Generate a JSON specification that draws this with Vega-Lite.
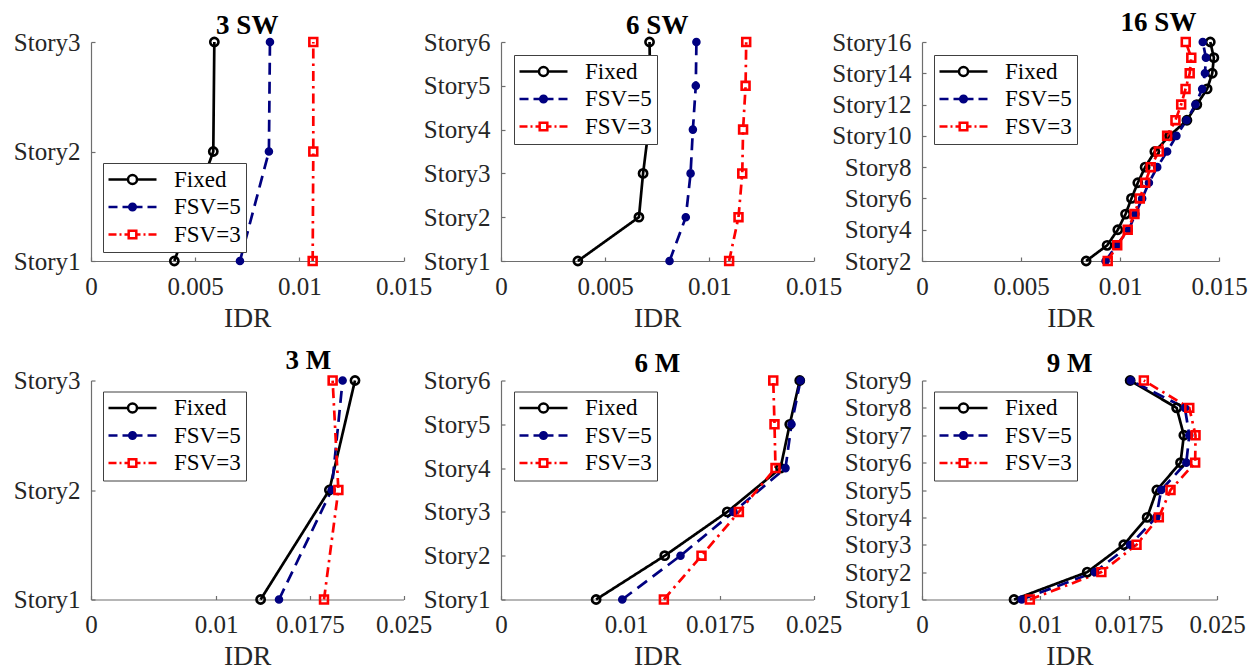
{
  "$schema": "https://vega.github.io/schema/vega-lite/v6.json",
  "background": "white",
  "padding": {"left": 13, "top": 8, "right": 6, "bottom": 0},
  "datasets": {
    "idr": [
      {"p": "3 SW", "s": "Fixed", "n": 1, "v": 0.0040},
      {"p": "3 SW", "s": "Fixed", "n": 2, "v": 0.00587},
      {"p": "3 SW", "s": "Fixed", "n": 3, "v": 0.00592},
      {"p": "3 SW", "s": "FSV=5", "n": 1, "v": 0.00715},
      {"p": "3 SW", "s": "FSV=5", "n": 2, "v": 0.00854},
      {"p": "3 SW", "s": "FSV=5", "n": 3, "v": 0.00859},
      {"p": "3 SW", "s": "FSV=3", "n": 1, "v": 0.01064},
      {"p": "3 SW", "s": "FSV=3", "n": 2, "v": 0.01067},
      {"p": "3 SW", "s": "FSV=3", "n": 3, "v": 0.01067},

      {"p": "6 SW", "s": "Fixed", "n": 1, "v": 0.00369},
      {"p": "6 SW", "s": "Fixed", "n": 2, "v": 0.00662},
      {"p": "6 SW", "s": "Fixed", "n": 3, "v": 0.00682},
      {"p": "6 SW", "s": "Fixed", "n": 4, "v": 0.00708},
      {"p": "6 SW", "s": "Fixed", "n": 5, "v": 0.00716},
      {"p": "6 SW", "s": "Fixed", "n": 6, "v": 0.00713},
      {"p": "6 SW", "s": "FSV=5", "n": 1, "v": 0.00809},
      {"p": "6 SW", "s": "FSV=5", "n": 2, "v": 0.00887},
      {"p": "6 SW", "s": "FSV=5", "n": 3, "v": 0.0091},
      {"p": "6 SW", "s": "FSV=5", "n": 4, "v": 0.00921},
      {"p": "6 SW", "s": "FSV=5", "n": 5, "v": 0.00935},
      {"p": "6 SW", "s": "FSV=5", "n": 6, "v": 0.00938},
      {"p": "6 SW", "s": "FSV=3", "n": 1, "v": 0.01095},
      {"p": "6 SW", "s": "FSV=3", "n": 2, "v": 0.0114},
      {"p": "6 SW", "s": "FSV=3", "n": 3, "v": 0.01158},
      {"p": "6 SW", "s": "FSV=3", "n": 4, "v": 0.01162},
      {"p": "6 SW", "s": "FSV=3", "n": 5, "v": 0.01174},
      {"p": "6 SW", "s": "FSV=3", "n": 6, "v": 0.01177},

      {"p": "16 SW", "s": "Fixed", "n": 2, "v": 0.00829},
      {"p": "16 SW", "s": "Fixed", "n": 3, "v": 0.00935},
      {"p": "16 SW", "s": "Fixed", "n": 4, "v": 0.00989},
      {"p": "16 SW", "s": "Fixed", "n": 5, "v": 0.01028},
      {"p": "16 SW", "s": "Fixed", "n": 6, "v": 0.01058},
      {"p": "16 SW", "s": "Fixed", "n": 7, "v": 0.0109},
      {"p": "16 SW", "s": "Fixed", "n": 8, "v": 0.01127},
      {"p": "16 SW", "s": "Fixed", "n": 9, "v": 0.01176},
      {"p": "16 SW", "s": "Fixed", "n": 10, "v": 0.0125},
      {"p": "16 SW", "s": "Fixed", "n": 11, "v": 0.01338},
      {"p": "16 SW", "s": "Fixed", "n": 12, "v": 0.01388},
      {"p": "16 SW", "s": "Fixed", "n": 13, "v": 0.0144},
      {"p": "16 SW", "s": "Fixed", "n": 14, "v": 0.01466},
      {"p": "16 SW", "s": "Fixed", "n": 15, "v": 0.01474},
      {"p": "16 SW", "s": "Fixed", "n": 16, "v": 0.01456},
      {"p": "16 SW", "s": "FSV=5", "n": 2, "v": 0.00927},
      {"p": "16 SW", "s": "FSV=5", "n": 3, "v": 0.00982},
      {"p": "16 SW", "s": "FSV=5", "n": 4, "v": 0.01044},
      {"p": "16 SW", "s": "FSV=5", "n": 5, "v": 0.01078},
      {"p": "16 SW", "s": "FSV=5", "n": 6, "v": 0.01112},
      {"p": "16 SW", "s": "FSV=5", "n": 7, "v": 0.01146},
      {"p": "16 SW", "s": "FSV=5", "n": 8, "v": 0.01188},
      {"p": "16 SW", "s": "FSV=5", "n": 9, "v": 0.01238},
      {"p": "16 SW", "s": "FSV=5", "n": 10, "v": 0.01285},
      {"p": "16 SW", "s": "FSV=5", "n": 11, "v": 0.01336},
      {"p": "16 SW", "s": "FSV=5", "n": 12, "v": 0.01381},
      {"p": "16 SW", "s": "FSV=5", "n": 13, "v": 0.01415},
      {"p": "16 SW", "s": "FSV=5", "n": 14, "v": 0.01429},
      {"p": "16 SW", "s": "FSV=5", "n": 15, "v": 0.01434},
      {"p": "16 SW", "s": "FSV=5", "n": 16, "v": 0.01418},
      {"p": "16 SW", "s": "FSV=3", "n": 2, "v": 0.00938},
      {"p": "16 SW", "s": "FSV=3", "n": 3, "v": 0.00986},
      {"p": "16 SW", "s": "FSV=3", "n": 4, "v": 0.01039},
      {"p": "16 SW", "s": "FSV=3", "n": 5, "v": 0.01073},
      {"p": "16 SW", "s": "FSV=3", "n": 6, "v": 0.011},
      {"p": "16 SW", "s": "FSV=3", "n": 7, "v": 0.01127},
      {"p": "16 SW", "s": "FSV=3", "n": 8, "v": 0.01155},
      {"p": "16 SW", "s": "FSV=3", "n": 9, "v": 0.01196},
      {"p": "16 SW", "s": "FSV=3", "n": 10, "v": 0.01238},
      {"p": "16 SW", "s": "FSV=3", "n": 11, "v": 0.0128},
      {"p": "16 SW", "s": "FSV=3", "n": 12, "v": 0.01309},
      {"p": "16 SW", "s": "FSV=3", "n": 13, "v": 0.01331},
      {"p": "16 SW", "s": "FSV=3", "n": 14, "v": 0.01352},
      {"p": "16 SW", "s": "FSV=3", "n": 15, "v": 0.0136},
      {"p": "16 SW", "s": "FSV=3", "n": 16, "v": 0.01332},

      {"p": "3 M", "s": "Fixed", "n": 1, "v": 0.01357},
      {"p": "3 M", "s": "Fixed", "n": 2, "v": 0.01907},
      {"p": "3 M", "s": "Fixed", "n": 3, "v": 0.02112},
      {"p": "3 M", "s": "FSV=5", "n": 1, "v": 0.01504},
      {"p": "3 M", "s": "FSV=5", "n": 2, "v": 0.01925},
      {"p": "3 M", "s": "FSV=5", "n": 3, "v": 0.02013},
      {"p": "3 M", "s": "FSV=3", "n": 1, "v": 0.01864},
      {"p": "3 M", "s": "FSV=3", "n": 2, "v": 0.01979},
      {"p": "3 M", "s": "FSV=3", "n": 3, "v": 0.01933},

      {"p": "6 M", "s": "Fixed", "n": 1, "v": 0.00761},
      {"p": "6 M", "s": "Fixed", "n": 2, "v": 0.0131},
      {"p": "6 M", "s": "Fixed", "n": 3, "v": 0.0181},
      {"p": "6 M", "s": "Fixed", "n": 4, "v": 0.02236},
      {"p": "6 M", "s": "Fixed", "n": 5, "v": 0.0231},
      {"p": "6 M", "s": "Fixed", "n": 6, "v": 0.0239},
      {"p": "6 M", "s": "FSV=5", "n": 1, "v": 0.0097},
      {"p": "6 M", "s": "FSV=5", "n": 2, "v": 0.01436},
      {"p": "6 M", "s": "FSV=5", "n": 3, "v": 0.0186},
      {"p": "6 M", "s": "FSV=5", "n": 4, "v": 0.02276},
      {"p": "6 M", "s": "FSV=5", "n": 5, "v": 0.02324},
      {"p": "6 M", "s": "FSV=5", "n": 6, "v": 0.02396},
      {"p": "6 M", "s": "FSV=3", "n": 1, "v": 0.01303},
      {"p": "6 M", "s": "FSV=3", "n": 2, "v": 0.01604},
      {"p": "6 M", "s": "FSV=3", "n": 3, "v": 0.01903},
      {"p": "6 M", "s": "FSV=3", "n": 4, "v": 0.02196},
      {"p": "6 M", "s": "FSV=3", "n": 5, "v": 0.02188},
      {"p": "6 M", "s": "FSV=3", "n": 6, "v": 0.02178},

      {"p": "9 M", "s": "Fixed", "n": 1, "v": 0.0078},
      {"p": "9 M", "s": "Fixed", "n": 2, "v": 0.014},
      {"p": "9 M", "s": "Fixed", "n": 3, "v": 0.0171},
      {"p": "9 M", "s": "Fixed", "n": 4, "v": 0.01908},
      {"p": "9 M", "s": "Fixed", "n": 5, "v": 0.0199},
      {"p": "9 M", "s": "Fixed", "n": 6, "v": 0.02191},
      {"p": "9 M", "s": "Fixed", "n": 7, "v": 0.02219},
      {"p": "9 M", "s": "Fixed", "n": 8, "v": 0.02158},
      {"p": "9 M", "s": "Fixed", "n": 9, "v": 0.01764},
      {"p": "9 M", "s": "FSV=5", "n": 1, "v": 0.00845},
      {"p": "9 M", "s": "FSV=5", "n": 2, "v": 0.01465},
      {"p": "9 M", "s": "FSV=5", "n": 3, "v": 0.01765},
      {"p": "9 M", "s": "FSV=5", "n": 4, "v": 0.01985},
      {"p": "9 M", "s": "FSV=5", "n": 5, "v": 0.02027},
      {"p": "9 M", "s": "FSV=5", "n": 6, "v": 0.0224},
      {"p": "9 M", "s": "FSV=5", "n": 7, "v": 0.02265},
      {"p": "9 M", "s": "FSV=5", "n": 8, "v": 0.02228},
      {"p": "9 M", "s": "FSV=5", "n": 9, "v": 0.0177},
      {"p": "9 M", "s": "FSV=3", "n": 1, "v": 0.00914},
      {"p": "9 M", "s": "FSV=3", "n": 2, "v": 0.0152},
      {"p": "9 M", "s": "FSV=3", "n": 3, "v": 0.01818},
      {"p": "9 M", "s": "FSV=3", "n": 4, "v": 0.02007},
      {"p": "9 M", "s": "FSV=3", "n": 5, "v": 0.02106},
      {"p": "9 M", "s": "FSV=3", "n": 6, "v": 0.02315},
      {"p": "9 M", "s": "FSV=3", "n": 7, "v": 0.02318},
      {"p": "9 M", "s": "FSV=3", "n": 8, "v": 0.02265},
      {"p": "9 M", "s": "FSV=3", "n": 9, "v": 0.0188}
    ]
  },
  "columns": 3,
  "bounds": "flush",
  "align": "each",
  "spacing": {"row": 119.5, "column": 97},
  "resolve": {
    "scale": {"color": "independent", "shape": "independent"},
    "legend": {"color": "independent", "shape": "independent"}
  },
  "concat": [
    {
      "data": {"name": "idr"},
      "transform": [{"filter": "datum.p === '3 SW'"}],
      "width": 312.5, "height": 219,
      "title": {"text": "3 SW", "font": "Liberation Serif", "fontSize": 27, "fontWeight": "bold", "color": "#000000", "frame": "group", "anchor": "middle", "offset": -30.5, "baseline": "alphabetic"},
      "encoding": {
        "x": {"field": "v", "type": "quantitative", "scale": {"domain": [0, 0.015], "nice": false, "zero": false},
              "axis": {"values": [0, 0.005, 0.01, 0.015], "labelExpr": "'' + datum.value", "title": "IDR",
                       "labelFont": "Liberation Serif", "labelFontSize": 25, "labelColor": "#262626", "labelPadding": 17, "labelFlush": false, "labelOverlap": false,
                       "titleFont": "Liberation Serif", "titleFontSize": 27.5, "titleFontWeight": "normal", "titleColor": "#262626", "titlePadding": 5,
                       "grid": false, "tickSize": -4, "tickColor": "#6e6e6e", "tickWidth": 1.2, "domainColor": "#6e6e6e", "domainWidth": 1.2}},
        "y": {"field": "n", "type": "quantitative", "scale": {"domain": [1, 3], "nice": false, "zero": false},
              "axis": {"values": [1, 2, 3], "labelExpr": "'Story' + datum.value", "title": null,
                       "labelFont": "Liberation Serif", "labelFontSize": 25, "labelColor": "#262626", "labelPadding": 15, "labelFlush": false, "labelOverlap": false,
                       "grid": false, "tickSize": -4, "tickColor": "#6e6e6e", "tickWidth": 1.2, "domainColor": "#6e6e6e", "domainWidth": 1.2}}
      },
      "layer": [
        {"mark": {"type": "line", "strokeWidth": 2.7, "strokeCap": "butt"},
         "encoding": {"detail": {"field": "s"}, "order": {"field": "n", "type": "quantitative"},
           "color": {"condition": [{"test": "datum.s === 'FSV=5'", "value": "#000080"}, {"test": "datum.s === 'FSV=3'", "value": "#ff0000"}], "value": "#000000"},
           "strokeDash": {"condition": [{"test": "datum.s === 'FSV=5'", "value": [12, 7]}, {"test": "datum.s === 'FSV=3'", "value": [10, 5, 2.5, 5]}], "value": [1, 0]}}},
        {"mark": {"type": "point", "filled": false, "opacity": 1},
         "encoding": {
           "color": {"condition": [{"test": "datum.s === 'FSV=5'", "value": "#000080"}, {"test": "datum.s === 'FSV=3'", "value": "#ff0000"}], "value": "#000000"},
           "shape": {"condition": {"test": "datum.s === 'FSV=3'", "value": "square"}, "value": "circle"},
           "fill": {"condition": {"test": "datum.s === 'FSV=5'", "value": "#000080"}, "value": "transparent"},
           "size": {"condition": [{"test": "datum.s === 'FSV=5'", "value": 50}, {"test": "datum.s === 'FSV=3'", "value": 62}], "value": 68},
           "strokeWidth": {"condition": {"test": "datum.s === 'FSV=5'", "value": 1.5}, "value": 2.6}}},
        {"mark": {"type": "point", "filled": false, "strokeWidth": 2.5, "size": 4},
         "encoding": {
           "opacity": {"value": 0},
           "color": {"field": "s", "type": "nominal", "scale": {"domain": ["Fixed", "FSV=5", "FSV=3"], "range": ["#000000", "#000080", "#ff0000"]},
                     "legend": {"title": null, "orient": "none", "legendX": 12, "legendY": 121, "padding": 5, "strokeColor": "#404040", "fillColor": "#ffffff",
                                "labelFont": "Liberation Serif", "labelFontSize": 23, "labelColor": "#000000", "symbolSize": 4, "symbolStrokeWidth": 2.5,
                                "symbolOffset": 13, "labelOffset": 30, "rowPadding": 3.5, "symbolOpacity": 1}},
           "shape": {"field": "s", "type": "nominal", "scale": {"domain": ["Fixed", "FSV=5", "FSV=3"], "range": [
             "M-24,0H-4.5M4.5,0H24M-4.5,0A4.5,4.5 0 1,0 4.5,0A4.5,4.5 0 1,0 -4.5,0",
             "M-24,0H-15M-10,0H-4M4,0H10M15,0H24M-3.3,0A3.3,3.3 0 1,0 3.3,0A3.3,3.3 0 1,0 -3.3,0M-1.2,0A1.2,1.2 0 1,0 1.2,0A1.2,1.2 0 1,0 -1.2,0",
             "M-24,0H-16M-13,0H-11M-8,0H-4M4,0H8M11,0H13M16,0H24M-3.8,-3.8H3.8V3.8H-3.8Z"]},
                     "legend": {"title": null, "orient": "none", "legendX": 12, "legendY": 121, "padding": 5, "strokeColor": "#404040", "fillColor": "#ffffff",
                                "labelFont": "Liberation Serif", "labelFontSize": 23, "labelColor": "#000000", "symbolSize": 4, "symbolStrokeWidth": 2.5,
                                "symbolOffset": 13, "labelOffset": 30, "rowPadding": 3.5, "symbolOpacity": 1}}}}
      ]
    },
    {
      "data": {"name": "idr"},
      "transform": [{"filter": "datum.p === '6 SW'"}],
      "width": 324, "height": 219,
      "title": {"text": "6 SW", "dx": -5.75, "font": "Liberation Serif", "fontSize": 27, "fontWeight": "bold", "color": "#000000", "frame": "group", "anchor": "middle", "offset": -30.5, "baseline": "alphabetic"},
      "encoding": {
        "x": {"field": "v", "type": "quantitative", "scale": {"domain": [0, 0.015], "range": [0, 312.5], "nice": false, "zero": false},
              "axis": {"values": [0, 0.005, 0.01, 0.015], "labelExpr": "'' + datum.value", "title": "IDR",
                       "labelFont": "Liberation Serif", "labelFontSize": 25, "labelColor": "#262626", "labelPadding": 17, "labelFlush": false, "labelOverlap": false,
                       "titleFont": "Liberation Serif", "titleFontSize": 27.5, "titleFontWeight": "normal", "titleColor": "#262626", "titlePadding": 5,
                       "grid": false, "tickSize": -4, "tickColor": "#6e6e6e", "tickWidth": 1.2, "domainColor": "#6e6e6e", "domainWidth": 1.2}},
        "y": {"field": "n", "type": "quantitative", "scale": {"domain": [1, 6], "nice": false, "zero": false},
              "axis": {"values": [1, 2, 3, 4, 5, 6], "labelExpr": "'Story' + datum.value", "title": null,
                       "labelFont": "Liberation Serif", "labelFontSize": 25, "labelColor": "#262626", "labelPadding": 15, "labelFlush": false, "labelOverlap": false,
                       "grid": false, "tickSize": -4, "tickColor": "#6e6e6e", "tickWidth": 1.2, "domainColor": "#6e6e6e", "domainWidth": 1.2}}
      },
      "layer": [
        {"mark": {"type": "line", "strokeWidth": 2.7, "strokeCap": "butt"},
         "encoding": {"detail": {"field": "s"}, "order": {"field": "n", "type": "quantitative"},
           "color": {"condition": [{"test": "datum.s === 'FSV=5'", "value": "#000080"}, {"test": "datum.s === 'FSV=3'", "value": "#ff0000"}], "value": "#000000"},
           "strokeDash": {"condition": [{"test": "datum.s === 'FSV=5'", "value": [12, 7]}, {"test": "datum.s === 'FSV=3'", "value": [10, 5, 2.5, 5]}], "value": [1, 0]}}},
        {"mark": {"type": "point", "filled": false, "opacity": 1},
         "encoding": {
           "color": {"condition": [{"test": "datum.s === 'FSV=5'", "value": "#000080"}, {"test": "datum.s === 'FSV=3'", "value": "#ff0000"}], "value": "#000000"},
           "shape": {"condition": {"test": "datum.s === 'FSV=3'", "value": "square"}, "value": "circle"},
           "fill": {"condition": {"test": "datum.s === 'FSV=5'", "value": "#000080"}, "value": "transparent"},
           "size": {"condition": [{"test": "datum.s === 'FSV=5'", "value": 50}, {"test": "datum.s === 'FSV=3'", "value": 62}], "value": 68},
           "strokeWidth": {"condition": {"test": "datum.s === 'FSV=5'", "value": 1.5}, "value": 2.6}}},
        {"mark": {"type": "point", "filled": false, "strokeWidth": 2.5, "size": 4},
         "encoding": {
           "opacity": {"value": 0},
           "color": {"field": "s", "type": "nominal", "scale": {"domain": ["Fixed", "FSV=5", "FSV=3"], "range": ["#000000", "#000080", "#ff0000"]},
                     "legend": {"title": null, "orient": "none", "legendX": 13, "legendY": 13, "padding": 5, "strokeColor": "#404040", "fillColor": "#ffffff",
                                "labelFont": "Liberation Serif", "labelFontSize": 23, "labelColor": "#000000", "symbolSize": 4, "symbolStrokeWidth": 2.5,
                                "symbolOffset": 13, "labelOffset": 30, "rowPadding": 3.5, "symbolOpacity": 1}},
           "shape": {"field": "s", "type": "nominal", "scale": {"domain": ["Fixed", "FSV=5", "FSV=3"], "range": [
             "M-24,0H-4.5M4.5,0H24M-4.5,0A4.5,4.5 0 1,0 4.5,0A4.5,4.5 0 1,0 -4.5,0",
             "M-24,0H-15M-10,0H-4M4,0H10M15,0H24M-3.3,0A3.3,3.3 0 1,0 3.3,0A3.3,3.3 0 1,0 -3.3,0M-1.2,0A1.2,1.2 0 1,0 1.2,0A1.2,1.2 0 1,0 -1.2,0",
             "M-24,0H-16M-13,0H-11M-8,0H-4M4,0H8M11,0H13M16,0H24M-3.8,-3.8H3.8V3.8H-3.8Z"]},
                     "legend": {"title": null, "orient": "none", "legendX": 13, "legendY": 13, "padding": 5, "strokeColor": "#404040", "fillColor": "#ffffff",
                                "labelFont": "Liberation Serif", "labelFontSize": 23, "labelColor": "#000000", "symbolSize": 4, "symbolStrokeWidth": 2.5,
                                "symbolOffset": 13, "labelOffset": 30, "rowPadding": 3.5, "symbolOpacity": 1}}}}
      ]
    },
    {
      "data": {"name": "idr"},
      "transform": [{"filter": "datum.p === '16 SW'"}],
      "width": 297, "height": 219,
      "title": {"text": "16 SW", "dx": 88, "font": "Liberation Serif", "fontSize": 27, "fontWeight": "bold", "color": "#000000", "frame": "group", "anchor": "middle", "offset": -27.5, "baseline": "alphabetic"},
      "encoding": {
        "x": {"field": "v", "type": "quantitative", "scale": {"domain": [0, 0.015], "nice": false, "zero": false},
              "axis": {"values": [0, 0.005, 0.01, 0.015], "labelExpr": "'' + datum.value", "title": "IDR",
                       "labelFont": "Liberation Serif", "labelFontSize": 25, "labelColor": "#262626", "labelPadding": 17, "labelFlush": false, "labelOverlap": false,
                       "titleFont": "Liberation Serif", "titleFontSize": 27.5, "titleFontWeight": "normal", "titleColor": "#262626", "titlePadding": 5,
                       "grid": false, "tickSize": -4, "tickColor": "#6e6e6e", "tickWidth": 1.2, "domainColor": "#6e6e6e", "domainWidth": 1.2}},
        "y": {"field": "n", "type": "quantitative", "scale": {"domain": [2, 16], "nice": false, "zero": false},
              "axis": {"values": [2, 4, 6, 8, 10, 12, 14, 16], "labelExpr": "'Story' + datum.value", "title": null,
                       "labelFont": "Liberation Serif", "labelFontSize": 25, "labelColor": "#262626", "labelPadding": 15, "labelFlush": false, "labelOverlap": false,
                       "grid": false, "tickSize": -4, "tickColor": "#6e6e6e", "tickWidth": 1.2, "domainColor": "#6e6e6e", "domainWidth": 1.2}}
      },
      "layer": [
        {"mark": {"type": "line", "strokeWidth": 2.7, "strokeCap": "butt"},
         "encoding": {"detail": {"field": "s"}, "order": {"field": "n", "type": "quantitative"},
           "color": {"condition": [{"test": "datum.s === 'FSV=5'", "value": "#000080"}, {"test": "datum.s === 'FSV=3'", "value": "#ff0000"}], "value": "#000000"},
           "strokeDash": {"condition": [{"test": "datum.s === 'FSV=5'", "value": [12, 7]}, {"test": "datum.s === 'FSV=3'", "value": [10, 5, 2.5, 5]}], "value": [1, 0]}}},
        {"mark": {"type": "point", "filled": false, "opacity": 1},
         "encoding": {
           "color": {"condition": [{"test": "datum.s === 'FSV=5'", "value": "#000080"}, {"test": "datum.s === 'FSV=3'", "value": "#ff0000"}], "value": "#000000"},
           "shape": {"condition": {"test": "datum.s === 'FSV=3'", "value": "square"}, "value": "circle"},
           "fill": {"condition": {"test": "datum.s === 'FSV=5'", "value": "#000080"}, "value": "transparent"},
           "size": {"condition": [{"test": "datum.s === 'FSV=5'", "value": 50}, {"test": "datum.s === 'FSV=3'", "value": 62}], "value": 68},
           "strokeWidth": {"condition": {"test": "datum.s === 'FSV=5'", "value": 1.5}, "value": 2.6}}},
        {"mark": {"type": "point", "filled": false, "strokeWidth": 2.5, "size": 4},
         "encoding": {
           "opacity": {"value": 0},
           "color": {"field": "s", "type": "nominal", "scale": {"domain": ["Fixed", "FSV=5", "FSV=3"], "range": ["#000000", "#000080", "#ff0000"]},
                     "legend": {"title": null, "orient": "none", "legendX": 12, "legendY": 13, "padding": 5, "strokeColor": "#404040", "fillColor": "#ffffff",
                                "labelFont": "Liberation Serif", "labelFontSize": 23, "labelColor": "#000000", "symbolSize": 4, "symbolStrokeWidth": 2.5,
                                "symbolOffset": 13, "labelOffset": 30, "rowPadding": 3.5, "symbolOpacity": 1}},
           "shape": {"field": "s", "type": "nominal", "scale": {"domain": ["Fixed", "FSV=5", "FSV=3"], "range": [
             "M-24,0H-4.5M4.5,0H24M-4.5,0A4.5,4.5 0 1,0 4.5,0A4.5,4.5 0 1,0 -4.5,0",
             "M-24,0H-15M-10,0H-4M4,0H10M15,0H24M-3.3,0A3.3,3.3 0 1,0 3.3,0A3.3,3.3 0 1,0 -3.3,0M-1.2,0A1.2,1.2 0 1,0 1.2,0A1.2,1.2 0 1,0 -1.2,0",
             "M-24,0H-16M-13,0H-11M-8,0H-4M4,0H8M11,0H13M16,0H24M-3.8,-3.8H3.8V3.8H-3.8Z"]},
                     "legend": {"title": null, "orient": "none", "legendX": 12, "legendY": 13, "padding": 5, "strokeColor": "#404040", "fillColor": "#ffffff",
                                "labelFont": "Liberation Serif", "labelFontSize": 23, "labelColor": "#000000", "symbolSize": 4, "symbolStrokeWidth": 2.5,
                                "symbolOffset": 13, "labelOffset": 30, "rowPadding": 3.5, "symbolOpacity": 1}}}}
      ]
    },
    {
      "data": {"name": "idr"},
      "transform": [{"filter": "datum.p === '3 M'"}],
      "width": 312.5, "height": 219,
      "title": {"text": "3 M", "dx": 61, "font": "Liberation Serif", "fontSize": 27, "fontWeight": "bold", "color": "#000000", "frame": "group", "anchor": "middle", "offset": -27.5, "baseline": "alphabetic"},
      "encoding": {
        "x": {"field": "v", "type": "quantitative", "scale": {"domain": [0, 0.025], "nice": false, "zero": false},
              "axis": {"values": [0, 0.01, 0.0175, 0.025], "labelExpr": "'' + datum.value", "title": "IDR",
                       "labelFont": "Liberation Serif", "labelFontSize": 25, "labelColor": "#262626", "labelPadding": 17, "labelFlush": false, "labelOverlap": false,
                       "titleFont": "Liberation Serif", "titleFontSize": 27.5, "titleFontWeight": "normal", "titleColor": "#262626", "titlePadding": 5,
                       "grid": false, "tickSize": -4, "tickColor": "#6e6e6e", "tickWidth": 1.2, "domainColor": "#6e6e6e", "domainWidth": 1.2}},
        "y": {"field": "n", "type": "quantitative", "scale": {"domain": [1, 3], "nice": false, "zero": false},
              "axis": {"values": [1, 2, 3], "labelExpr": "'Story' + datum.value", "title": null,
                       "labelFont": "Liberation Serif", "labelFontSize": 25, "labelColor": "#262626", "labelPadding": 15, "labelFlush": false, "labelOverlap": false,
                       "grid": false, "tickSize": -4, "tickColor": "#6e6e6e", "tickWidth": 1.2, "domainColor": "#6e6e6e", "domainWidth": 1.2}}
      },
      "layer": [
        {"mark": {"type": "line", "strokeWidth": 2.7, "strokeCap": "butt"},
         "encoding": {"detail": {"field": "s"}, "order": {"field": "n", "type": "quantitative"},
           "color": {"condition": [{"test": "datum.s === 'FSV=5'", "value": "#000080"}, {"test": "datum.s === 'FSV=3'", "value": "#ff0000"}], "value": "#000000"},
           "strokeDash": {"condition": [{"test": "datum.s === 'FSV=5'", "value": [12, 7]}, {"test": "datum.s === 'FSV=3'", "value": [10, 5, 2.5, 5]}], "value": [1, 0]}}},
        {"mark": {"type": "point", "filled": false, "opacity": 1},
         "encoding": {
           "color": {"condition": [{"test": "datum.s === 'FSV=5'", "value": "#000080"}, {"test": "datum.s === 'FSV=3'", "value": "#ff0000"}], "value": "#000000"},
           "shape": {"condition": {"test": "datum.s === 'FSV=3'", "value": "square"}, "value": "circle"},
           "fill": {"condition": {"test": "datum.s === 'FSV=5'", "value": "#000080"}, "value": "transparent"},
           "size": {"condition": [{"test": "datum.s === 'FSV=5'", "value": 50}, {"test": "datum.s === 'FSV=3'", "value": 62}], "value": 68},
           "strokeWidth": {"condition": {"test": "datum.s === 'FSV=5'", "value": 1.5}, "value": 2.6}}},
        {"mark": {"type": "point", "filled": false, "strokeWidth": 2.5, "size": 4},
         "encoding": {
           "opacity": {"value": 0},
           "color": {"field": "s", "type": "nominal", "scale": {"domain": ["Fixed", "FSV=5", "FSV=3"], "range": ["#000000", "#000080", "#ff0000"]},
                     "legend": {"title": null, "orient": "none", "legendX": 12, "legendY": 11, "padding": 5, "strokeColor": "#404040", "fillColor": "#ffffff",
                                "labelFont": "Liberation Serif", "labelFontSize": 23, "labelColor": "#000000", "symbolSize": 4, "symbolStrokeWidth": 2.5,
                                "symbolOffset": 13, "labelOffset": 30, "rowPadding": 3.5, "symbolOpacity": 1}},
           "shape": {"field": "s", "type": "nominal", "scale": {"domain": ["Fixed", "FSV=5", "FSV=3"], "range": [
             "M-24,0H-4.5M4.5,0H24M-4.5,0A4.5,4.5 0 1,0 4.5,0A4.5,4.5 0 1,0 -4.5,0",
             "M-24,0H-15M-10,0H-4M4,0H10M15,0H24M-3.3,0A3.3,3.3 0 1,0 3.3,0A3.3,3.3 0 1,0 -3.3,0M-1.2,0A1.2,1.2 0 1,0 1.2,0A1.2,1.2 0 1,0 -1.2,0",
             "M-24,0H-16M-13,0H-11M-8,0H-4M4,0H8M11,0H13M16,0H24M-3.8,-3.8H3.8V3.8H-3.8Z"]},
                     "legend": {"title": null, "orient": "none", "legendX": 12, "legendY": 11, "padding": 5, "strokeColor": "#404040", "fillColor": "#ffffff",
                                "labelFont": "Liberation Serif", "labelFontSize": 23, "labelColor": "#000000", "symbolSize": 4, "symbolStrokeWidth": 2.5,
                                "symbolOffset": 13, "labelOffset": 30, "rowPadding": 3.5, "symbolOpacity": 1}}}}
      ]
    },
    {
      "data": {"name": "idr"},
      "transform": [{"filter": "datum.p === '6 M'"}],
      "width": 324, "height": 219,
      "title": {"text": "6 M", "dx": -5.75, "font": "Liberation Serif", "fontSize": 27, "fontWeight": "bold", "color": "#000000", "frame": "group", "anchor": "middle", "offset": -30.5, "baseline": "alphabetic"},
      "encoding": {
        "x": {"field": "v", "type": "quantitative", "scale": {"domain": [0, 0.025], "range": [0, 312.5], "nice": false, "zero": false},
              "axis": {"values": [0, 0.01, 0.0175, 0.025], "labelExpr": "'' + datum.value", "title": "IDR",
                       "labelFont": "Liberation Serif", "labelFontSize": 25, "labelColor": "#262626", "labelPadding": 17, "labelFlush": false, "labelOverlap": false,
                       "titleFont": "Liberation Serif", "titleFontSize": 27.5, "titleFontWeight": "normal", "titleColor": "#262626", "titlePadding": 5,
                       "grid": false, "tickSize": -4, "tickColor": "#6e6e6e", "tickWidth": 1.2, "domainColor": "#6e6e6e", "domainWidth": 1.2}},
        "y": {"field": "n", "type": "quantitative", "scale": {"domain": [1, 6], "nice": false, "zero": false},
              "axis": {"values": [1, 2, 3, 4, 5, 6], "labelExpr": "'Story' + datum.value", "title": null,
                       "labelFont": "Liberation Serif", "labelFontSize": 25, "labelColor": "#262626", "labelPadding": 15, "labelFlush": false, "labelOverlap": false,
                       "grid": false, "tickSize": -4, "tickColor": "#6e6e6e", "tickWidth": 1.2, "domainColor": "#6e6e6e", "domainWidth": 1.2}}
      },
      "layer": [
        {"mark": {"type": "line", "strokeWidth": 2.7, "strokeCap": "butt"},
         "encoding": {"detail": {"field": "s"}, "order": {"field": "n", "type": "quantitative"},
           "color": {"condition": [{"test": "datum.s === 'FSV=5'", "value": "#000080"}, {"test": "datum.s === 'FSV=3'", "value": "#ff0000"}], "value": "#000000"},
           "strokeDash": {"condition": [{"test": "datum.s === 'FSV=5'", "value": [12, 7]}, {"test": "datum.s === 'FSV=3'", "value": [10, 5, 2.5, 5]}], "value": [1, 0]}}},
        {"mark": {"type": "point", "filled": false, "opacity": 1},
         "encoding": {
           "color": {"condition": [{"test": "datum.s === 'FSV=5'", "value": "#000080"}, {"test": "datum.s === 'FSV=3'", "value": "#ff0000"}], "value": "#000000"},
           "shape": {"condition": {"test": "datum.s === 'FSV=3'", "value": "square"}, "value": "circle"},
           "fill": {"condition": {"test": "datum.s === 'FSV=5'", "value": "#000080"}, "value": "transparent"},
           "size": {"condition": [{"test": "datum.s === 'FSV=5'", "value": 50}, {"test": "datum.s === 'FSV=3'", "value": 62}], "value": 68},
           "strokeWidth": {"condition": {"test": "datum.s === 'FSV=5'", "value": 1.5}, "value": 2.6}}},
        {"mark": {"type": "point", "filled": false, "strokeWidth": 2.5, "size": 4},
         "encoding": {
           "opacity": {"value": 0},
           "color": {"field": "s", "type": "nominal", "scale": {"domain": ["Fixed", "FSV=5", "FSV=3"], "range": ["#000000", "#000080", "#ff0000"]},
                     "legend": {"title": null, "orient": "none", "legendX": 13, "legendY": 11, "padding": 5, "strokeColor": "#404040", "fillColor": "#ffffff",
                                "labelFont": "Liberation Serif", "labelFontSize": 23, "labelColor": "#000000", "symbolSize": 4, "symbolStrokeWidth": 2.5,
                                "symbolOffset": 13, "labelOffset": 30, "rowPadding": 3.5, "symbolOpacity": 1}},
           "shape": {"field": "s", "type": "nominal", "scale": {"domain": ["Fixed", "FSV=5", "FSV=3"], "range": [
             "M-24,0H-4.5M4.5,0H24M-4.5,0A4.5,4.5 0 1,0 4.5,0A4.5,4.5 0 1,0 -4.5,0",
             "M-24,0H-15M-10,0H-4M4,0H10M15,0H24M-3.3,0A3.3,3.3 0 1,0 3.3,0A3.3,3.3 0 1,0 -3.3,0M-1.2,0A1.2,1.2 0 1,0 1.2,0A1.2,1.2 0 1,0 -1.2,0",
             "M-24,0H-16M-13,0H-11M-8,0H-4M4,0H8M11,0H13M16,0H24M-3.8,-3.8H3.8V3.8H-3.8Z"]},
                     "legend": {"title": null, "orient": "none", "legendX": 13, "legendY": 11, "padding": 5, "strokeColor": "#404040", "fillColor": "#ffffff",
                                "labelFont": "Liberation Serif", "labelFontSize": 23, "labelColor": "#000000", "symbolSize": 4, "symbolStrokeWidth": 2.5,
                                "symbolOffset": 13, "labelOffset": 30, "rowPadding": 3.5, "symbolOpacity": 1}}}}
      ]
    },
    {
      "data": {"name": "idr"},
      "transform": [{"filter": "datum.p === '9 M'"}],
      "width": 297, "height": 219,
      "title": {"text": "9 M", "dx": -1, "font": "Liberation Serif", "fontSize": 27, "fontWeight": "bold", "color": "#000000", "frame": "group", "anchor": "middle", "offset": -30.5, "baseline": "alphabetic"},
      "encoding": {
        "x": {"field": "v", "type": "quantitative", "scale": {"domain": [0, 0.025], "range": [0, 295], "nice": false, "zero": false},
              "axis": {"values": [0, 0.01, 0.0175, 0.025], "labelExpr": "'' + datum.value", "title": "IDR",
                       "labelFont": "Liberation Serif", "labelFontSize": 25, "labelColor": "#262626", "labelPadding": 17, "labelFlush": false, "labelOverlap": false,
                       "titleFont": "Liberation Serif", "titleFontSize": 27.5, "titleFontWeight": "normal", "titleColor": "#262626", "titlePadding": 5,
                       "grid": false, "tickSize": -4, "tickColor": "#6e6e6e", "tickWidth": 1.2, "domainColor": "#6e6e6e", "domainWidth": 1.2}},
        "y": {"field": "n", "type": "quantitative", "scale": {"domain": [1, 9], "nice": false, "zero": false},
              "axis": {"values": [1, 2, 3, 4, 5, 6, 7, 8, 9], "labelExpr": "'Story' + datum.value", "title": null,
                       "labelFont": "Liberation Serif", "labelFontSize": 25, "labelColor": "#262626", "labelPadding": 15, "labelFlush": false, "labelOverlap": false,
                       "grid": false, "tickSize": -4, "tickColor": "#6e6e6e", "tickWidth": 1.2, "domainColor": "#6e6e6e", "domainWidth": 1.2}}
      },
      "layer": [
        {"mark": {"type": "line", "strokeWidth": 2.7, "strokeCap": "butt"},
         "encoding": {"detail": {"field": "s"}, "order": {"field": "n", "type": "quantitative"},
           "color": {"condition": [{"test": "datum.s === 'FSV=5'", "value": "#000080"}, {"test": "datum.s === 'FSV=3'", "value": "#ff0000"}], "value": "#000000"},
           "strokeDash": {"condition": [{"test": "datum.s === 'FSV=5'", "value": [12, 7]}, {"test": "datum.s === 'FSV=3'", "value": [10, 5, 2.5, 5]}], "value": [1, 0]}}},
        {"mark": {"type": "point", "filled": false, "opacity": 1},
         "encoding": {
           "color": {"condition": [{"test": "datum.s === 'FSV=5'", "value": "#000080"}, {"test": "datum.s === 'FSV=3'", "value": "#ff0000"}], "value": "#000000"},
           "shape": {"condition": {"test": "datum.s === 'FSV=3'", "value": "square"}, "value": "circle"},
           "fill": {"condition": {"test": "datum.s === 'FSV=5'", "value": "#000080"}, "value": "transparent"},
           "size": {"condition": [{"test": "datum.s === 'FSV=5'", "value": 50}, {"test": "datum.s === 'FSV=3'", "value": 62}], "value": 68},
           "strokeWidth": {"condition": {"test": "datum.s === 'FSV=5'", "value": 1.5}, "value": 2.6}}},
        {"mark": {"type": "point", "filled": false, "strokeWidth": 2.5, "size": 4},
         "encoding": {
           "opacity": {"value": 0},
           "color": {"field": "s", "type": "nominal", "scale": {"domain": ["Fixed", "FSV=5", "FSV=3"], "range": ["#000000", "#000080", "#ff0000"]},
                     "legend": {"title": null, "orient": "none", "legendX": 12, "legendY": 11, "padding": 5, "strokeColor": "#404040", "fillColor": "#ffffff",
                                "labelFont": "Liberation Serif", "labelFontSize": 23, "labelColor": "#000000", "symbolSize": 4, "symbolStrokeWidth": 2.5,
                                "symbolOffset": 13, "labelOffset": 30, "rowPadding": 3.5, "symbolOpacity": 1}},
           "shape": {"field": "s", "type": "nominal", "scale": {"domain": ["Fixed", "FSV=5", "FSV=3"], "range": [
             "M-24,0H-4.5M4.5,0H24M-4.5,0A4.5,4.5 0 1,0 4.5,0A4.5,4.5 0 1,0 -4.5,0",
             "M-24,0H-15M-10,0H-4M4,0H10M15,0H24M-3.3,0A3.3,3.3 0 1,0 3.3,0A3.3,3.3 0 1,0 -3.3,0M-1.2,0A1.2,1.2 0 1,0 1.2,0A1.2,1.2 0 1,0 -1.2,0",
             "M-24,0H-16M-13,0H-11M-8,0H-4M4,0H8M11,0H13M16,0H24M-3.8,-3.8H3.8V3.8H-3.8Z"]},
                     "legend": {"title": null, "orient": "none", "legendX": 12, "legendY": 11, "padding": 5, "strokeColor": "#404040", "fillColor": "#ffffff",
                                "labelFont": "Liberation Serif", "labelFontSize": 23, "labelColor": "#000000", "symbolSize": 4, "symbolStrokeWidth": 2.5,
                                "symbolOffset": 13, "labelOffset": 30, "rowPadding": 3.5, "symbolOpacity": 1}}}}
      ]
    }
  ],
  "config": {
    "font": "Liberation Serif",
    "view": {"stroke": null}
  }
}
